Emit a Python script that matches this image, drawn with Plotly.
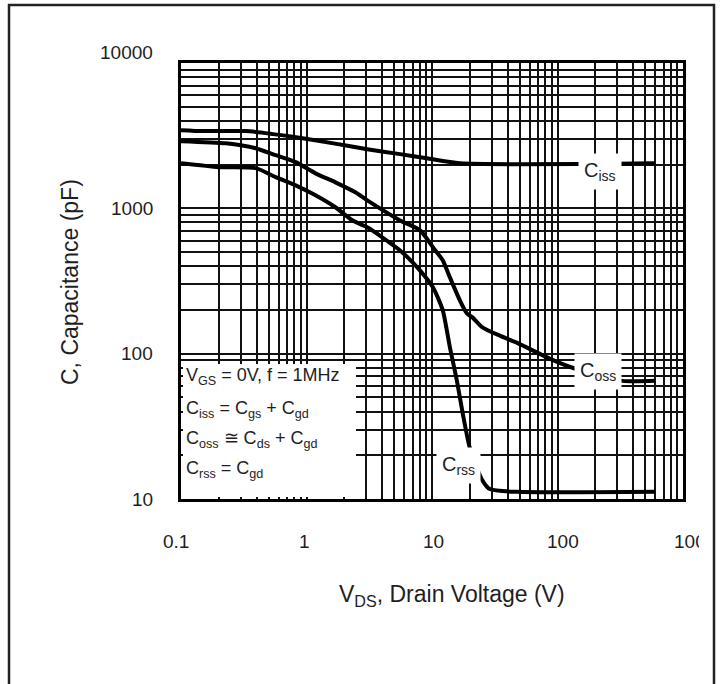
import math
import plotly.graph_objects as go

# Drain voltage (V) and capacitance (pF) for each capacitance curve
ciss_v = [0.1, 0.15, 0.33, 0.54, 0.93, 1.64, 3.05, 5.57, 9.1, 16.7, 600]
ciss_c = [3450, 3400, 3400, 3240, 3040, 2800, 2550, 2360, 2210, 2040, 2040]

coss_v = [0.1, 0.228, 0.394, 0.568, 0.82, 1.18, 1.70, 2.45, 3.05, 5.57, 8.04,
          10.2, 12.2, 13.9, 16.7, 19.0, 21.1, 25.4, 34.7, 47.3, 86.5, 131.6,
          330, 600]
coss_c = [2900, 2800, 2590, 2320, 2080, 1740, 1510, 1290, 1135, 826, 705,
          538, 438, 334, 232, 189, 177, 151, 133, 119, 92.5, 80,
          65, 65]

crss_v = [0.1, 0.2, 0.394, 0.568, 0.82, 1.18, 1.70, 2.32, 3.05, 5.57, 8.04,
          10.2, 12.2, 13.9, 15.8, 17.6, 20.0, 24.9, 28.9, 47.3, 600]
crss_c = [2040, 1920, 1890, 1640, 1440, 1230, 1017, 827, 740, 513, 373,
          285, 198, 110, 65, 38.5, 22.5, 13.7, 11.7, 11.2, 11.2]

# Axis decades and labels
x_tick_vals = [0.1, 1, 10, 100, 1000]
x_tick_text = ["0.1", "1", "10", "100", "1000"]
y_tick_vals = [10, 100, 1000, 10000]
y_tick_text = ["10", "100", "1000", "10000"]

# Curve names, placed on their curves
curve_labels = ["C<sub>iss</sub>", "C<sub>oss</sub>", "C<sub>rss</sub>"]
curve_label_v = [218, 210, 16.4]
curve_label_c = [1780, 74.8, 17.1]

# Test conditions box
condition_lines = [
    "V<sub>GS</sub> = 0V, f = 1MHz",
    "C<sub>iss</sub> = C<sub>gs</sub> + C<sub>gd</sub>",
    "C<sub>oss</sub> \u2245 C<sub>ds</sub> + C<sub>gd</sub>",
    "C<sub>rss</sub> = C<sub>gd</sub>",
]

FONT = "Liberation Sans, Arial, sans-serif"
INK = "#1e1e24"

# Full 1-2-...-9 grid on both log axes
x_grid = [m * 10 ** e for e in range(-1, 3) for m in range(1, 10)] + [1000]
y_grid = [m * 10 ** e for e in range(1, 4) for m in range(1, 10)] + [10000]

fig = go.Figure()
for v, c in [(ciss_v, ciss_c), (coss_v, coss_c), (crss_v, crss_c)]:
    fig.add_trace(go.Scatter(x=v, y=c, mode="lines",
                             line=dict(color="black", width=4,
                                       shape="spline", smoothing=0.6),
                             showlegend=False, hoverinfo="skip"))

W, H = 724, 684
L, R, T, B = 181, 41, 63, 185
PW, PH = W - L - R, H - T - B


def px(xpix):
    return (xpix - L) / PW


def py(ypix):
    return 1 - (ypix - T) / PH


axis_common = dict(type="log", showgrid=True, gridcolor="#111", gridwidth=1.5,
                   showline=True, linecolor="black", linewidth=3, mirror=True,
                   ticks="", showticklabels=False, zeroline=False)
fig.update_xaxes(range=[-1, 3], tickvals=x_grid, **axis_common)
fig.update_yaxes(range=[1, 4], tickvals=y_grid, **axis_common)

ann = []
# x tick labels (the last one runs past the page edge and is cut)
for i, (v, t) in enumerate(zip(x_tick_vals, x_tick_text)):
    a = dict(x=math.log10(v), xref="x", y=0, yref="paper", text=t,
             showarrow=False, yanchor="middle", yshift=-42,
             font=dict(family=FONT, size=19, color=INK))
    if i == len(x_tick_vals) - 1:
        a.update(xanchor="left", xshift=-10, width=25, align="left",
                 borderpad=0)
    else:
        a.update(xanchor="center", xshift=-5.5 + 3.5 * i)
    ann.append(a)

# y tick labels
for i, (v, t) in enumerate(zip(y_tick_vals, y_tick_text)):
    ann.append(dict(x=0, xref="paper", y=math.log10(v), yref="y", text=t,
                    showarrow=False, xanchor="right", xshift=-26,
                    yanchor="middle", yshift=11 if v == 10000 else 0,
                    font=dict(family=FONT, size=19, color=INK)))

# axis titles
ann.append(dict(x=px(70), y=py(282), xref="paper", yref="paper",
                text="C, Capacitance (pF)", textangle=-90, showarrow=False,
                xanchor="center", yanchor="middle",
                font=dict(family=FONT, size=23, color=INK)))
ann.append(dict(x=px(452), y=py(595), xref="paper", yref="paper",
                text="V<sub>DS</sub>, Drain Voltage (V)", showarrow=False,
                xanchor="center", yanchor="middle",
                font=dict(family=FONT, size=23, color=INK)))

# curve names with a white patch behind them
for t, v, c in zip(curve_labels, curve_label_v, curve_label_c):
    ann.append(dict(x=math.log10(v), y=math.log10(c), xref="x", yref="y",
                    text=t, showarrow=False, bgcolor="white", borderpad=5,
                    xanchor="center", yanchor="middle",
                    font=dict(family=FONT, size=20, color=INK)))

# conditions text
for t, ypix in zip(condition_lines, [376, 409, 439, 469]):
    ann.append(dict(x=px(184), y=py(ypix), xref="paper", yref="paper",
                    text=t, showarrow=False, xanchor="left",
                    yanchor="middle", align="left",
                    font=dict(family=FONT, size=18, color=INK)))

shapes = [
    # white panel behind the conditions text
    dict(type="rect", xref="paper", yref="paper", layer="above",
         x0=px(183), x1=px(356), y0=py(497), y1=py(364),
         fillcolor="white", line=dict(width=0)),
    # page frame
    dict(type="rect", xref="paper", yref="paper", layer="above",
         x0=px(9), x1=px(714), y0=py(700), y1=py(5),
         fillcolor="rgba(0,0,0,0)", line=dict(color="#222", width=2.5)),
]

fig.update_layout(
    width=W, height=H,
    margin=dict(l=L, r=R, t=T, b=B),
    paper_bgcolor="white", plot_bgcolor="white",
    annotations=ann, shapes=shapes,
    font=dict(family=FONT, color=INK),
)

fig.write_html("out.html")
